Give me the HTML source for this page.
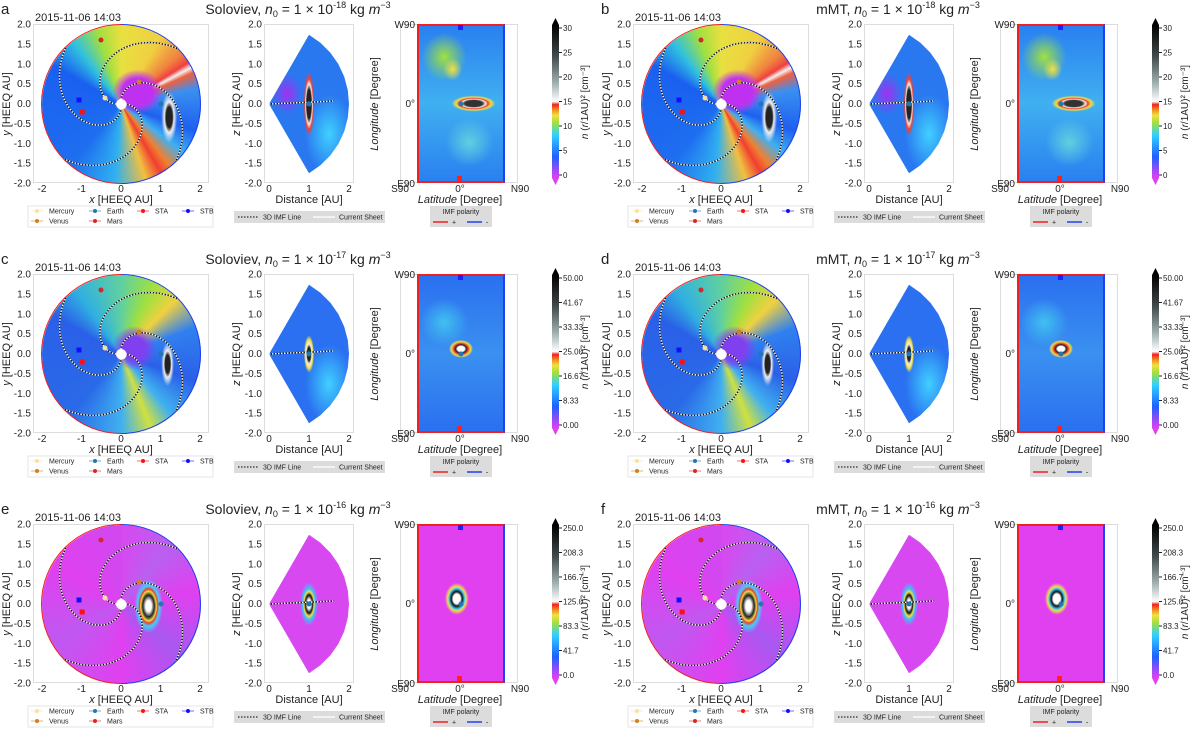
<!DOCTYPE html>
<html><head><meta charset="utf-8">
<style>
body{margin:0;background:#fff;font-family:"Liberation Sans",sans-serif;}
#root{position:relative;width:1200px;height:729px;overflow:hidden;background:#fff}
.p{position:absolute;width:600px;height:250px}
.abs{position:absolute}
svg{position:absolute;left:0;top:0;overflow:visible}
</style></head><body>
<div id="root"></div>
<script>
const panelLetters=["a","b","c","d","e","f"];
const panelModels=["Soloviev","mMT","Soloviev","mMT","Soloviev","mMT"];
const panelExps=["-18","-18","-17","-17","-16","-16"];
const cbTicks=[["0","5","10","15","20","25","30"],["0.00","8.33","16.67","25.00","33.33","41.67","50.00"],["0.0","41.7","83.3","125.0","166.7","208.3","250.0"]];
const yTicks=["2.0","1.5","1.0","0.5","0.0","-0.5","-1.0","-1.5","-2.0"];
const xTicks1=["-2","-1","0","1","2"];
const xTicks2=["0","1","2"];
const dateLabel="2015-11-06 14:03";
const planetNames=["Earth","STA","STB","Mars","Venus","Mercury"];
const planetX=[1.0,-0.97,-1.05,-0.5,0.45,-0.4];
const planetY=[0.0,-0.2,0.1,1.6,0.55,0.15];
const planetColors=["#1f77b4","#ff1010","#1010ff","#d62728","#d08020","#f8e0a0"];
const root=document.getElementById('root');
const NS="http://www.w3.org/2000/svg";
function sv(tag,attrs,parent){const e=document.createElementNS(NS,tag);for(const k in attrs)e.setAttribute(k,attrs[k]);parent.appendChild(e);return e;}
function txt(parent,x,y,s,size,anchor,extra){const t=sv('text',{x:x,y:y,'font-size':size,'text-anchor':anchor||'middle',fill:'#222'},parent);if(extra)for(const k in extra)t.setAttribute(k,extra[k]);t.textContent=s;return t;}
function div(parent,l,t,w,h,style){const d=document.createElement('div');d.className='abs';d.style.cssText=`left:${l}px;top:${t}px;width:${w}px;height:${h}px;`+style;parent.appendChild(d);return d;}

const circBg=[
 'background:radial-gradient(circle at 50% 50%,#fff 0 4%,transparent 5%),radial-gradient(ellipse 5% 16% at 80% 58%,#222 0 40%,#f0f0f0 60%,transparent 100%),radial-gradient(ellipse 16% 14% at 60% 42%,#c030f0 0 60%,transparent 100%),conic-gradient(from 0deg,#e8e040,#f0d040 30deg,#f08040 50deg,#f04040 58deg,#f0f0f0 62deg,#f06040 66deg,#3a90f0 78deg,#1e60f0 110deg,#40b0f0 128deg,#f08030 142deg,#f04030 150deg,#f0c040 162deg,#30b0f0 185deg,#1e6ef0 220deg,#1a60f0 300deg,#30c0e0 322deg,#a0e040 342deg,#e8e040 360deg);',
 'background:radial-gradient(circle at 50% 50%,#fff 0 4%,transparent 5%),radial-gradient(ellipse 4% 14% at 79% 56%,#222 0 40%,#f0f0f0 60%,transparent 100%),radial-gradient(ellipse 14% 14% at 58% 46%,#8040f0 0 50%,transparent 100%),conic-gradient(from 0deg,#60d0a0,#a0e040 25deg,#f0d040 45deg,#3080f0 70deg,#2a60e8 110deg,#40b0f0 140deg,#d0e040 158deg,#40b0f0 180deg,#2a6ae8 220deg,#2a60e8 300deg,#30b0e0 325deg,#60d0a0 360deg);',
 'background:radial-gradient(circle at 50% 50%,#fff 0 4%,transparent 5%),radial-gradient(ellipse 9% 17% at 67% 51%,#fff 0 20%,#222 40%,#f0e040 55%,#f04030 62%,#40d0ff 75%,transparent 100%),radial-gradient(circle at 50% 50%,transparent 0 88%,#6060f0 100%),conic-gradient(from 0deg,#d848f0,#b860f0 40deg,#e040f0 80deg,#a858f0 130deg,#e040f0 180deg,#c058f0 240deg,#e040f0 300deg,#d048f0 360deg);'];
const wedgeBg=[
 'background:radial-gradient(ellipse 6px 36px at 40px 80px,#222 0 40%,#f0f0f0 55%,#f04030 70%,transparent 90%),radial-gradient(ellipse 22px 30px at 18px 70px,#a030f0,transparent 70%),radial-gradient(ellipse 30px 50px at 60px 110px,#40d0ff,transparent 80%),#2a78f0;',
 'background:radial-gradient(ellipse 6px 22px at 40px 80px,#222 0 30%,#f0f0f0 45%,#f0e040 65%,transparent 85%),radial-gradient(ellipse 30px 50px at 60px 110px,#40d0ff,transparent 80%),#2a70f0;',
 'background:radial-gradient(ellipse 9px 22px at 40px 80px,#fff 0 20%,#111 40%,#f0e040 55%,#40c0ff 70%,transparent 100%),#d848f0;'];
const rectBg=[
 'background:radial-gradient(ellipse 22px 8px at 65% 50%,#333 0 40%,#f0f0f0 55%,#f04030 65%,#f0e040 80%,transparent 100%),radial-gradient(ellipse 12px 14px at 40% 28%,#f0e040,transparent 80%),radial-gradient(ellipse 28px 30px at 30% 20%,#a0e040,transparent 80%),radial-gradient(ellipse 30px 30px at 60% 75%,#60d0e0,transparent 80%),linear-gradient(#2a80f0,#40b0f0 50%,#2a80f0);',
 'background:radial-gradient(ellipse 12px 9px at 50% 47%,#fff 0 30%,#222 45%,#f04030 60%,#f0e040 80%,transparent 100%),radial-gradient(ellipse 30px 30px at 30% 30%,#40c0f0,transparent 80%),linear-gradient(#2a70f0,#3a90f0 50%,#2a70f0);',
 'background:radial-gradient(ellipse 12px 16px at 45% 47%,#fff 0 30%,#111 45%,#40d0ff 65%,#f0e040 75%,transparent 100%),#e040f0;'];

for(let i=0;i<6;i++){
  const row=Math.floor(i/2),col=i%2;
  const ox=col*600,oy=row*250;
  const p=document.createElement('div');p.className='p';p.style.left=ox+'px';p.style.top=oy+'px';
  
  
  root.appendChild(p);
  const T=24,B=183,H=B-T;
  const cx=121,cy=104,rx=79.5,ry=79.5;
  const ax1=div(p,33,T,176,H,'border:1px solid #ddd;box-sizing:border-box;');
  
  const el=div(p,cx-rx,cy-ry,2*rx,2*ry,'border-radius:50%;'+circBg[row]);
  
  const wx=269,wy=104,ax=40,ay=40;
  const ax2=div(p,264,T,90,H,'border:1px solid #ddd;box-sizing:border-box;');
  
  let pts=[`0px 80px`];
  for(let a=-60;a<=60;a+=10){const r=a*Math.PI/180;pts.push(`${(2*ax*Math.cos(r)).toFixed(1)}px ${(80-2*ay*Math.sin(r)).toFixed(1)}px`);}
  const we=div(p,wx,wy-80,82,160,wedgeBg[row]+'clip-path:polygon('+pts.join(',')+');');
  
  const ax3=div(p,400,T,118,H,'border:1px solid #ddd;box-sizing:border-box;');
  
  const re=div(p,417,T,88,H,rectBg[row]+'border:2px solid #f02020;border-right-color:#2040f0;box-sizing:border-box;');
  
  const cb=div(p,552,25,7,153,'background:linear-gradient(to top,#e040f0,#2060ff 14%,#30d0ff 28%,#a0e040 36%,#f0e040 41%,#f08020 45%,#f02020 48%,#ffffff 50%,#a0b0b0 62%,#404848 80%,#000 100%);');
  
  const s=sv('svg',{width:600,height:250},p);
  txt(s,1,14,panelLetters[i],15,'start',{});
  const tt=txt(s,298,14,'',14,'middle',{});
  tt.innerHTML=panelModels[i]+',  <tspan font-style="italic">n</tspan><tspan font-size="9" dy="3">0</tspan><tspan dy="-3"> = 1 × 10</tspan><tspan font-size="9" dy="-6">'+panelExps[i]+'</tspan><tspan dy="6"> kg </tspan><tspan font-style="italic">m</tspan><tspan font-size="9" dy="-6">−3</tspan>';
  txt(s,35,21,dateLabel,11,'start',{});
  sv('polygon',{points:'552,25 559,25 555.5,18',fill:'#000'},s);
  sv('polygon',{points:'552,178 559,178 555.5,185',fill:'#e040f0'},s);
  cbTicks[row].forEach((t,k)=>{const y=175-k*147/6;sv('line',{x1:559,x2:562,y1:y,y2:y,stroke:'#222'},s);txt(s,563,y+3,t,8,'start');});
  txt(s,588,102,'',10,'middle',{transform:'rotate(-90 588 102)',}).innerHTML='<tspan font-style="italic">n</tspan> (<tspan font-style="italic">r</tspan>/1AU)² [cm⁻³]';
  sv('path',{d:`M${cx} ${cy-ry} A${rx} ${ry} 0 0 0 ${cx} ${cy+ry}`,fill:'none',stroke:'#f02020','stroke-width':1},s);
  sv('path',{d:`M${cx} ${cy+ry} A${rx} ${ry} 0 0 0 ${cx} ${cy-ry}`,fill:'none',stroke:'#2040f0','stroke-width':1},s);
  for(let k=0;k<4;k++){let d='';for(let t=0;t<=1.0001;t+=0.05){const r=0.12+1.86*t;const th=k*Math.PI/2+1.6-2.4*t;d+=(t?'L':'M')+(cx+ax*r*Math.cos(th)).toFixed(1)+' '+(cy-ay*r*Math.sin(th)).toFixed(1);}
    sv('path',{d:d,fill:'none',stroke:'#111','stroke-width':1.4},s);
    sv('path',{d:d,fill:'none',stroke:'#fff','stroke-width':1.4,'stroke-dasharray':'1.5 1.5'},s);}
  sv('path',{d:`M${wx} ${wy} L${wx+65} ${wy-3}`,stroke:'#111','stroke-width':1.4,fill:'none'},s);
  sv('path',{d:`M${wx} ${wy} L${wx+65} ${wy-3}`,stroke:'#fff','stroke-width':1.4,'stroke-dasharray':'1.5 1.5',fill:'none'},s);
  sv('circle',{cx:cx,cy:cy,r:5,fill:'#fff'},s);
  planetNames.forEach((n,k)=>{const x=cx+ax*planetX[k],y=cy-ay*planetY[k];
    const m=(n==='STA'||n==='STB')?sv('rect',{x:x-2.5,y:y-2.5,width:5,height:5,fill:planetColors[k]},s):sv('circle',{cx:x,cy:y,r:2.5,fill:planetColors[k]},s);
    });
  sv('circle',{cx:wx+40,cy:wy,r:2.5,fill:'#1f77b4'},s);
  sv('circle',{cx:461,cy:104,r:2.5,fill:'#1f77b4'},s);
  sv('rect',{x:458,y:25,width:5,height:5,fill:'#2020ff'},s);
  sv('rect',{x:457,y:176,width:5,height:5,fill:'#ff2020'},s);
  yTicks.forEach((t,k)=>{const y=T+k*H/8;txt(s,31,y+3.5,t,10,'end');txt(s,262,y+3.5,t,10,'end');});
  xTicks1.forEach((t,k)=>txt(s,42+k*39.5,192,t,10));
  xTicks2.forEach((t,k)=>txt(s,269+k*40,192,t,10));
  txt(s,121,203,'',11,'middle',{}).innerHTML='<tspan font-style="italic">x</tspan> [HEEQ AU]';
  txt(s,10,104,'',11,'middle',{transform:'rotate(-90 10 104)',}).innerHTML='<tspan font-style="italic">y</tspan> [HEEQ AU]';
  txt(s,309,203,'Distance [AU]',11,'middle',{});
  txt(s,240,104,'',11,'middle',{transform:'rotate(-90 240 104)',}).innerHTML='<tspan font-style="italic">z</tspan> [HEEQ AU]';
  txt(s,415,28,'W90',10,'end');txt(s,415,107,'0°',10,'end');txt(s,415,187,'E90',10,'end');
  txt(s,400,192,'S90',10,'middle');txt(s,460,192,'0°',10,'middle');txt(s,520,192,'N90',10,'middle');
  txt(s,460,203,'',11,'middle',{}).innerHTML='<tspan font-style="italic">Latitude</tspan> [Degree]';
  txt(s,378,104,'',11,'middle',{transform:'rotate(-90 378 104)',}).innerHTML='<tspan font-style="italic">Longitude</tspan> [Degree]';
  const lg1=sv('g',{},s);
  sv('rect',{x:28,y:206,width:185,height:21,fill:'#fff',stroke:'#e6e6e6'},lg1);
  [['Mercury','#f8e0a0',37,211],['Venus','#d08020',37,221],['Earth','#1f77b4',95,211],['Mars','#d62728',95,221],['STA','#ff1010',143,211],['STB','#1010ff',188,211]].forEach(e=>{
    sv('line',{x1:e[2]-6,x2:e[2]+6,y1:e[3],y2:e[3],stroke:e[1],'stroke-width':0.6},lg1);sv('circle',{cx:e[2],cy:e[3],r:2,fill:e[1]},lg1);txt(lg1,e[2]+12,e[3]+2.5,e[0],7,'start');});
  const lg2=sv('g',{},s);
  sv('rect',{x:234,y:211,width:151,height:12,fill:'#dcdcdc'},lg2);
  sv('line',{x1:238,x2:258,y1:217,y2:217,stroke:'#000','stroke-dasharray':'1.5 1.5'},lg2);txt(lg2,263,219.5,'3D IMF Line',7,'start');
  sv('line',{x1:313,x2:335,y1:217,y2:217,stroke:'#fff','stroke-width':1.2},lg2);txt(lg2,339,219.5,'Current Sheet',7,'start');
  const lg3=sv('g',{},s);
  sv('rect',{x:430,y:206,width:62,height:21,fill:'#dcdcdc'},lg3);
  txt(lg3,461,214,'IMF polarity',7,'middle');
  sv('line',{x1:433,x2:448,y1:222,y2:222,stroke:'#f02020','stroke-width':1.5},lg3);txt(lg3,452,224.5,'+',7,'start');
  sv('line',{x1:467,x2:482,y1:222,y2:222,stroke:'#2040f0','stroke-width':1.5},lg3);txt(lg3,486,224.5,'-',7,'start');
}
</script>
</body></html>
